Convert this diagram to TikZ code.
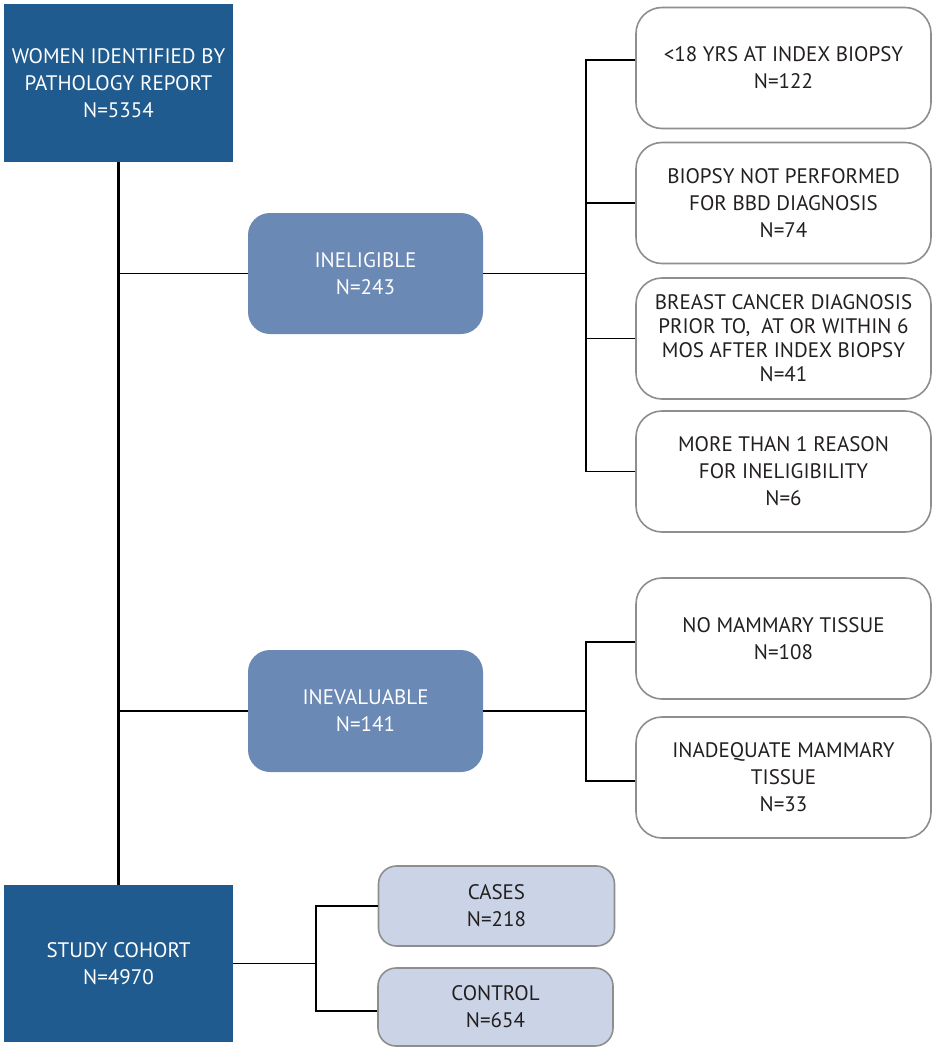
\documentclass[tikz,border=0pt]{standalone}
\usepackage{fontspec}
\setmainfont{PT Sans}
\definecolor{dblue}{HTML}{1F5B8E}
\definecolor{mblue}{HTML}{6A89B4}
\definecolor{lblue}{HTML}{CBD4E6}
\definecolor{gstroke}{HTML}{8E8E8E}
\definecolor{txt}{HTML}{231F20}
\begin{document}
\begin{tikzpicture}[x=1pt,y=-1pt,
  every node/.style={inner sep=0pt, align=center, font=\fontsize{21}{27}\selectfont},
  darkbox/.style={rectangle, fill=dblue, text=white, minimum width=229pt, minimum height=158pt},
  midbox/.style={rectangle, rounded corners=22pt, fill=mblue, text=white, minimum width=235pt, minimum height=121pt},
  whitebox/.style={rectangle, rounded corners=26pt, draw=gstroke, line width=1.6pt, fill=white, text=txt, minimum width=295pt, minimum height=121pt},
  lightbox/.style={rectangle, rounded corners=18pt, draw=gstroke, line width=1.6pt, fill=lblue, text=txt, minimum width=236pt, minimum height=79pt},
  trunk/.style={line width=3.8pt, black},
  branch/.style={line width=1.7pt, black}]
\useasboundingbox (0,0) rectangle (935,1050);

% main column
\node[darkbox] (top) at (118.5,83) {WOMEN IDENTIFIED BY\\PATHOLOGY REPORT\\N=5354};
\node[darkbox, minimum height=157pt] (cohort) at (118.5,963.5) {STUDY COHORT\\N=4970};
\draw[trunk] (top.south) -- (cohort.north);

% ineligible
\node[midbox] (inel) at (365.5,273.5) {INELIGIBLE\\N=243};
\node[midbox, minimum height=122pt] (ineval) at (365.5,711) {INEVALUABLE\\N=141};
\coordinate (j1) at (top.south |- inel.west);
\coordinate (j2) at (top.south |- ineval.west);
\draw[branch] (j1) -- (inel.west);
\draw[branch] (j2) -- (ineval.west);

% right boxes for ineligible
\node[whitebox] (r1) at (783.5,68) {<18 YRS AT INDEX BIOPSY\\N=122};
\node[whitebox] (r2) at (783.5,203) {BIOPSY NOT PERFORMED\\FOR BBD DIAGNOSIS\\N=74};
\node[whitebox, font=\fontsize{21}{24}\selectfont] (r3) at (783.5,338.5) {BREAST CANCER DIAGNOSIS\\PRIOR TO,\ \ AT OR WITHIN 6\\MOS AFTER INDEX BIOPSY\\N=41};
\node[whitebox] (r4) at (783.5,471.5) {MORE THAN 1 REASON\\FOR INELIGIBILITY\\N=6};
\coordinate (bI) at (586,273.5);
\draw[branch] (inel.east) -- (bI);
\draw[branch] ([yshift=8pt]r1.west) -| (bI) |- (r4.west);
\draw[branch] (bI |- r2.west) -- (r2.west);
\draw[branch] (bI |- r3.west) -- (r3.west);

% right boxes for inevaluable
\node[whitebox] (r5) at (783.5,638.5) {NO MAMMARY TISSUE\\N=108};
\node[whitebox] (r6) at (783.5,777.5) {INADEQUATE MAMMARY\\TISSUE\\N=33};
\coordinate (bE) at (586,711);
\draw[branch] (ineval.east) -- (bE);
\draw[branch] ([yshift=-3.5pt]r5.west) -| (bE) |- ([yshift=-3.5pt]r6.west);

% cohort split
\node[lightbox, minimum height=80pt] (cases) at (496.5,906) {CASES\\N=218};
\node[lightbox, minimum width=235pt, minimum height=78pt] (control) at (495.5,1007) {CONTROL\\N=654};
\coordinate (bC) at (316,963.5);
\draw[branch] (cohort.east) -- (bC);
\draw[branch] (cases.west) -| (bC) |- ([yshift=-4pt]control.west);
\end{tikzpicture}
\end{document}
